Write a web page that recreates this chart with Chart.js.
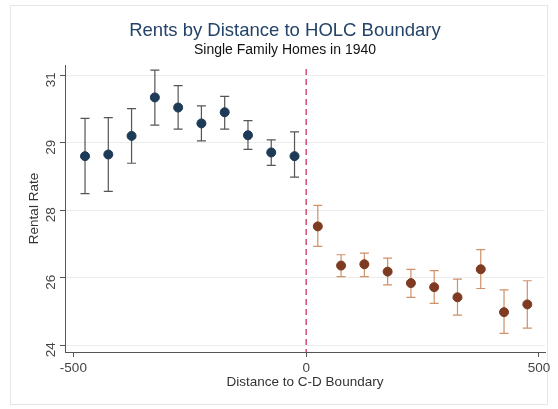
<!DOCTYPE html>
<html lang="en">
<head>
    <meta charset="UTF-8">
    <title>Rents by Distance to HOLC Boundary</title>
    <script src="https://cdn.jsdelivr.net/npm/chart.js"></script>
    <style>
        body { margin: 0; background: #ffffff; }
        .wrap { width: 558px; height: 409px; }
    </style>
</head>
<body>
    <div class="wrap"><canvas id="rentChart"></canvas></div>
    <script>
        // distance bins (feet) on each side of the C-D boundary
        const leftDist = [-475, -425, -375, -325, -275, -225, -175, -125, -75, -25];
        const leftRent = [29.60, 29.65, 30.20, 31.34, 31.04, 30.57, 30.90, 30.22, 29.71, 29.60];
        const leftHi   = [30.72, 30.74, 31.01, 32.15, 31.69, 31.09, 31.37, 30.65, 30.08, 30.32];
        const leftLo   = [28.49, 28.56, 29.39, 30.52, 30.40, 30.05, 30.40, 29.80, 29.33, 28.98];

        const rightDist = [25, 75, 125, 175, 225, 275, 325, 375, 425, 475];
        const rightRent = [27.52, 26.36, 26.40, 26.18, 25.84, 25.72, 25.42, 26.25, 24.98, 25.21];
        const rightHi   = [28.14, 26.68, 26.73, 26.58, 26.25, 26.21, 25.96, 26.83, 25.64, 25.91];
        const rightLo   = [26.93, 26.03, 26.03, 25.79, 25.42, 25.24, 24.89, 25.68, 24.35, 24.51];

        const yTicks = [24, 26, 28, 30, 32];
        const yTickLabels = ['24', '26', '28', '29', '31'];
        const xTicks = [-500, 0, 500];

        const toPoints = (xs, ys) => xs.map((x, i) => ({ x: x, y: ys[i] }));
        const FONT = 'Liberation Sans, Arial, sans-serif';

        // whisker colours per dataset
        const barColors = ['#555555', '#d09068'];
        const bounds = [[leftLo, leftHi], [rightLo, rightHi]];

        const framePlugin = {
            id: 'frame',
            beforeDraw(chart) {
                const c = chart.ctx;
                c.save();
                c.fillStyle = '#ffffff';
                c.fillRect(0, 0, chart.width, chart.height);
                c.strokeStyle = '#e6e6e6';
                c.lineWidth = 1;
                c.strokeRect(10.5, 5.5, 537, 399);
                c.restore();
            }
        };

        const errorBars = {
            id: 'errorBars',
            beforeDatasetsDraw(chart) {
                const c = chart.ctx;
                const xs = chart.scales.x, ys = chart.scales.y;
                c.save();
                // boundary line at 0
                const x0 = xs.getPixelForValue(0);
                c.strokeStyle = '#c8345c';
                c.lineWidth = 1.3;
                c.setLineDash([6, 4]);
                c.beginPath();
                c.moveTo(x0, chart.chartArea.top + 4);
                c.lineTo(x0, chart.chartArea.bottom);
                c.stroke();
                c.setLineDash([]);

                chart.data.datasets.forEach((ds, di) => {
                    const [lo, hi] = bounds[di];
                    c.strokeStyle = barColors[di];
                    c.lineWidth = 1.2;
                    ds.data.forEach((p, i) => {
                        const px = xs.getPixelForValue(p.x);
                        const pt = ys.getPixelForValue(hi[i]);
                        const pb = ys.getPixelForValue(lo[i]);
                        c.beginPath();
                        c.moveTo(px, pt); c.lineTo(px, pb);
                        c.moveTo(px - 4.5, pt); c.lineTo(px + 4.5, pt);
                        c.moveTo(px - 4.5, pb); c.lineTo(px + 4.5, pb);
                        c.stroke();
                    });
                });
                c.restore();
            }
        };

        new Chart(document.getElementById('rentChart'), {
            type: 'scatter',
            data: {
                datasets: [{
                    data: toPoints(leftDist, leftRent),
                    backgroundColor: '#1d3a57',
                    borderColor: '#1d3a57',
                    pointRadius: 4.5
                }, {
                    data: toPoints(rightDist, rightRent),
                    backgroundColor: '#7e3b22',
                    borderColor: '#7e3b22',
                    pointRadius: 4.5
                }]
            },
            options: {
                responsive: true,
                maintainAspectRatio: false,
                animation: false,
                layout: { padding: { left: 25, right: 13, top: 0, bottom: 20 } },
                plugins: {
                    legend: { display: false },
                    tooltip: { enabled: false },
                    title: {
                        display: true,
                        text: 'Rents by Distance to HOLC Boundary',
                        color: '#24436a',
                        font: { family: FONT, size: 18.5, weight: 'normal' },
                        padding: { top: 20, bottom: 0 }
                    },
                    subtitle: {
                        display: true,
                        text: 'Single Family Homes in 1940',
                        color: '#111111',
                        font: { family: FONT, size: 14 },
                        padding: { top: 0, bottom: 6 }
                    }
                },
                scales: {
                    x: {
                        type: 'linear',
                        min: -518,
                        max: 513,
                        afterBuildTicks: s => { s.ticks = xTicks.map(v => ({ value: v })); },
                        afterFit: s => { s.height = 37; },
                        grid: { drawOnChartArea: false, drawTicks: true, tickLength: 5, color: '#555555' },
                        border: { color: '#555555' },
                        ticks: {
                            color: '#444444',
                            padding: 5,
                            font: { family: FONT, size: 13.5, lineHeight: 1 }
                        },
                        title: {
                            display: true,
                            text: 'Distance to C-D Boundary',
                            color: '#333333',
                            padding: { top: 0, bottom: 0 },
                            font: { family: FONT, size: 13.5, lineHeight: 1 }
                        }
                    },
                    y: {
                        min: 23.8,
                        max: 32.3,
                        afterBuildTicks: s => { s.ticks = yTicks.map(v => ({ value: v })); },
                        afterFit: s => { s.width = 40; },
                        grid: {
                            color: '#ececec',
                            tickColor: '#555555',
                            tickLength: 5
                        },
                        border: { color: '#555555' },
                        ticks: {
                            color: '#444444',
                            padding: 9,
                            labelOffset: -3,
                            minRotation: 90,
                            maxRotation: 90,
                            font: { family: FONT, size: 13.5, lineHeight: 1 },
                            callback: v => yTickLabels[yTicks.indexOf(v)]
                        },
                        title: {
                            display: true,
                            text: 'Rental Rate',
                            color: '#333333',
                            padding: { top: 3, bottom: 0 },
                            font: { family: FONT, size: 13.5, lineHeight: 1 }
                        }
                    }
                }
            },
            plugins: [framePlugin, errorBars]
        });
    </script>
</body>
</html>
